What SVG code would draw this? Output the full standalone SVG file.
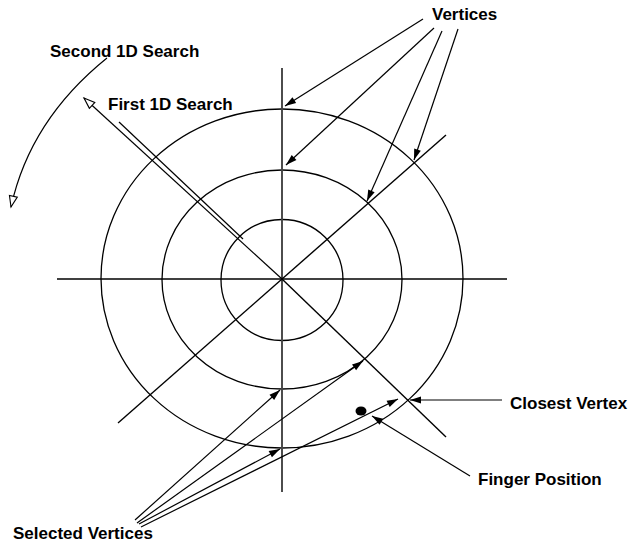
<svg xmlns="http://www.w3.org/2000/svg" width="629" height="543" viewBox="0 0 629 543">
<style>
.ln{fill:none;stroke:#000;stroke-width:1.3}
.ax{fill:none;stroke:#000;stroke-width:1.4}
.vx{fill:none;stroke:#444;stroke-width:1.9}
.lbl{font-family:"Liberation Sans",Arial,sans-serif;font-weight:bold;font-size:17px;fill:#000}
.fa{fill:none;stroke:#000;stroke-width:1.2;marker-end:url(#fill)}
.oa{fill:none;stroke:#000;stroke-width:1.2;marker-end:url(#open)}
</style>
<defs>
<marker id="fill" markerUnits="userSpaceOnUse" markerWidth="12" markerHeight="8" refX="11" refY="3.5" orient="auto" overflow="visible">
<path d="M0,0 L11,3.5 L0,7 z" fill="#000"/>
</marker>
<marker id="open" markerUnits="userSpaceOnUse" markerWidth="12" markerHeight="10" refX="11" refY="4" orient="auto" overflow="visible">
<path d="M0,0 L11,4 L0,8 z" fill="#fff" stroke="#000" stroke-width="1.1"/>
</marker>
</defs>
<rect width="629" height="543" fill="#fff"/>
<g id="target">
<ellipse class="ln" cx="282" cy="278.5" rx="181" ry="169.5"/>
<ellipse class="ln" cx="282" cy="279.5" rx="120" ry="109.5"/>
<ellipse class="ln" cx="282" cy="280" rx="61" ry="60.5"/>
<line class="ax" x1="57" y1="279" x2="507" y2="279"/>
<line class="vx" x1="282" y1="68" x2="282" y2="492"/>
<line class="ax" x1="118" y1="423" x2="446" y2="135"/>
<line class="ax" x1="282" y1="279" x2="446" y2="437"/>
<ellipse cx="361" cy="411" rx="5.5" ry="4.5" fill="#000"/>
</g>
<g id="label-vertices"><text class="lbl" x="432" y="20">Vertices</text></g>
<g id="label-second"><text class="lbl" x="50" y="57">Second 1D Search</text></g>
<g id="label-first"><text class="lbl" x="108" y="110">First 1D Search</text></g>
<g id="label-closest"><text class="lbl" x="510" y="409">Closest Vertex</text></g>
<g id="label-finger"><text class="lbl" x="478" y="485">Finger Position</text></g>
<g id="label-selected"><text class="lbl" x="13" y="539">Selected Vertices</text></g>
<g id="connectors">
<path class="oa" d="M282,279 L84,98"/>
<line class="ln" x1="119" y1="122" x2="243" y2="239" style="stroke-width:1.2"/>
<path class="oa" d="M107,58 Q30,120 11,207"/>
<path class="fa" d="M423,19 L285,106"/>
<path class="fa" d="M434,28 L286,165"/>
<path class="fa" d="M442,31 L367,201"/>
<path class="fa" d="M458,29 L414,160"/>
<path class="fa" d="M135,520 L280,390"/>
<path class="fa" d="M137,523 L363,361"/>
<path class="fa" d="M139,524 L280,449"/>
<path class="fa" d="M141,527 L398,399"/>
<path class="fa" d="M502,400 L410,400"/>
<path class="fa" d="M470,476 L372,416"/>
</g>
</svg>
